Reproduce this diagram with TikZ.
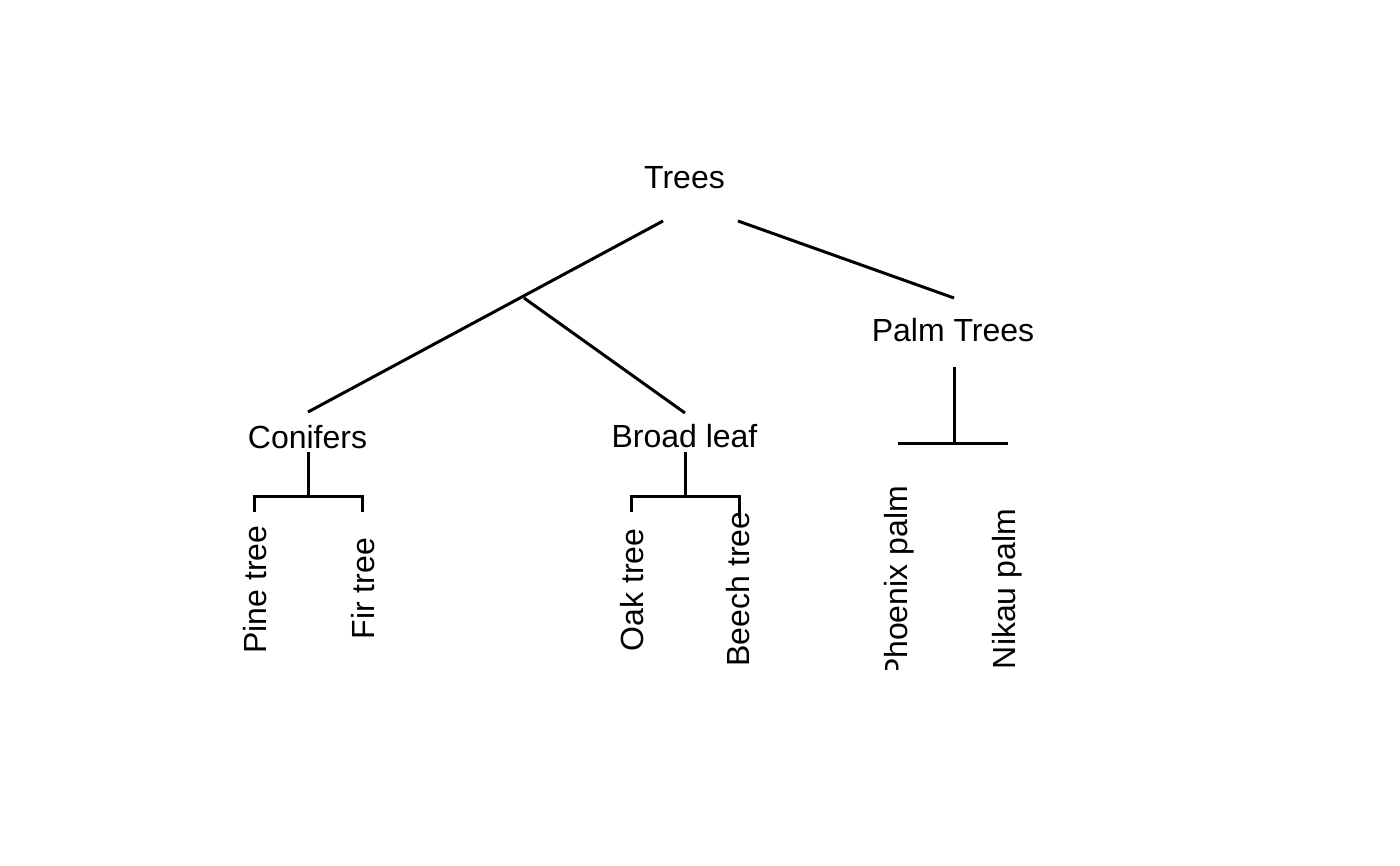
\documentclass[tikz,border=0pt]{standalone}
\usepackage{fontspec}
\setmainfont{Liberation Sans}
\begin{document}
\begin{tikzpicture}[x=1pt,y=-1pt,
  lbl/.style={inner sep=0pt,anchor=base,font=\fontsize{32}{38}\selectfont},
  vlbl/.style={lbl,rotate=90},
  edge/.style={line width=3pt,line cap=butt,line join=miter}]
\useasboundingbox[fill=white] (0,0) rectangle (1400,865);
% labels
\node[lbl] (trees) at (684.5,188) {Trees};
\node[lbl] (palm) at (953,341) {Palm Trees};
\node[lbl] (conifers) at (307.5,448.5) {Conifers};
\node[lbl] (broad) at (684.5,447.5) {Broad leaf};
\node[vlbl] (pine) at (266,589.5) {Pine tree};
\node[vlbl] (fir) at (374,588.5) {Fir tree};
\node[vlbl] (oak) at (643,590) {Oak tree};
\node[vlbl] (beech) at (749,589) {Beech tree};
\begin{scope}
\clip (850,400) rectangle (960,669.5);
\node[vlbl] (phoenix) at (907,583) {Phoenix palm};
\end{scope}
\node[vlbl] (nikau) at (1015,589) {Nikau palm};
% connector end points
\coordinate (tL) at (663,221);
\coordinate (tR) at (738,221);
\coordinate (cT) at (308,412);
\coordinate (br) at (524,298);
\coordinate (bT) at (685,413);
\coordinate (pT) at (954,298);
\coordinate (pB) at (954,367);
\coordinate (pJ) at (954,443);
\coordinate (pL) at (898,443);
\coordinate (pR) at (1008,443);
\coordinate (cB) at (308,452);
\coordinate (cJ) at (308,496);
\coordinate (cL) at (254,496);
\coordinate (cR) at (362,496);
\coordinate (cLe) at (254,512);
\coordinate (cRe) at (362,512);
\coordinate (bB) at (685,452);
\coordinate (bJ) at (685,496);
\coordinate (bL) at (631,496);
\coordinate (bR) at (739,496);
\coordinate (bLe) at (631,512);
\coordinate (bRe) at (739,518);
% connectors
\draw[edge] (tL) -- (cT);
\draw[edge] (br) -- (bT);
\draw[edge] (tR) -- (pT);
\draw[edge] (pB) -- (pJ);
\draw[edge] (pL) -- (pR);
\draw[edge] (cB) -- (cJ);
\draw[edge] (cLe) -- (cL) -- (cR) -- (cRe);
\draw[edge] (bB) -- (bJ);
\draw[edge] (bLe) -- (bL) -- (bR) -- (bRe);
\end{tikzpicture}
\end{document}
